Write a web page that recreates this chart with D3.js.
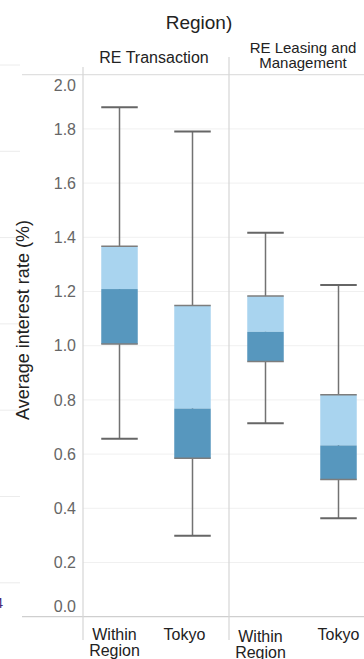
<!DOCTYPE html>
<html>
<head>
<meta charset="utf-8">
<script src="https://cdn.jsdelivr.net/npm/d3@7"></script>
<style>
  html, body { margin: 0; padding: 0; background: #fff; }
  svg { display: block; font-family: "Liberation Sans", Arial, sans-serif; }
</style>
</head>
<body>
<svg id="chart" width="364" height="659"></svg>
<script>
// Box-plot summary of average interest rates, by business line and lender location
const panels = ["RE Transaction", "RE Leasing and Management"];
const panelHeaderLines = [["RE Transaction"], ["RE Leasing and", "Management"]];
const groups = ["Within Region", "Tokyo"];
const groupLabelLines = [["Within", "Region"], ["Tokyo"]];

const boxPanel = ["RE Transaction", "RE Transaction", "RE Leasing and Management", "RE Leasing and Management"];
const boxGroup = ["Within Region", "Tokyo", "Within Region", "Tokyo"];
const whiskerHigh = [1.88, 1.79, 1.417, 1.224];
const quartile3 = [1.367, 1.148, 1.183, 0.819];
const medians = [1.209, 0.768, 1.051, 0.632];
const quartile1 = [1.006, 0.585, 0.942, 0.506];
const whiskerLow = [0.657, 0.299, 0.714, 0.363];

const yTicks = [0, 0.2, 0.4, 0.6, 0.8, 1.0, 1.2, 1.4, 1.6, 1.8, 2.0];

const boxes = boxPanel.map((p, i) => ({
  panel: p, group: boxGroup[i],
  hi: whiskerHigh[i], q3: quartile3[i], med: medians[i], q1: quartile1[i], lo: whiskerLow[i]
}));

const svg = d3.select("#chart");
const W = 364, H = 659;
const plotTop = 74.7, plotBottom = 616.7, plotLeft = 83;

const y = d3.scaleLinear().domain([0, 2]).range([plotBottom, plotTop]);
const xPanel = d3.scaleBand().domain(panels).range([plotLeft, plotLeft + 146 * panels.length]);
const xGroup = d3.scaleBand().domain(groups).range([0, xPanel.bandwidth()]);
const boxW = xGroup.bandwidth() * 0.5;
const cx = d => xPanel(d.panel) + xGroup(d.group) + xGroup.bandwidth() / 2;

// faint rules from the neighbouring sheet at the far left
const sideRules = d3.range(7).map(i => 65 + i * 86.3);
svg.append("g").selectAll("line").data(sideRules).join("line")
  .attr("x1", 0).attr("x2", 20).attr("y1", d => d).attr("y2", d => d)
  .attr("stroke", "#ececec").attr("stroke-width", 1);
svg.append("text").attr("x", 3).attr("y", 608).attr("text-anchor", "end")
  .attr("font-size", 15).attr("fill", "#4a2a7a").text("4");

// gridlines
svg.append("g").selectAll("line").data(yTicks.filter(t => t > 0 && t < 2)).join("line")
  .attr("x1", plotLeft).attr("x2", W)
  .attr("y1", d => y(d)).attr("y2", d => y(d))
  .attr("stroke", "#f0f0f0").attr("stroke-width", 1);

// top and bottom rules
svg.append("line").attr("x1", 22).attr("x2", W).attr("y1", y(2)).attr("y2", y(2))
  .attr("stroke", "#e0e0e0").attr("stroke-width", 1.2);
svg.append("line").attr("x1", 22).attr("x2", W).attr("y1", y(0)).attr("y2", y(0))
  .attr("stroke", "#cfcfcf").attr("stroke-width", 1.2);

// panel dividers
svg.append("g").selectAll("line").data(panels).join("line")
  .attr("x1", d => xPanel(d)).attr("x2", d => xPanel(d))
  .attr("y1", (d, i) => i === 0 ? 67 : 57).attr("y2", 640)
  .attr("stroke", "#d6d6d6").attr("stroke-width", 1.2);

// y axis
const yAxis = svg.append("g")
  .attr("transform", `translate(${plotLeft},0)`)
  .call(d3.axisLeft(y).tickValues(yTicks).tickSize(0).tickPadding(7).tickFormat(d3.format(".1f")));
yAxis.select(".domain").remove();
yAxis.selectAll("text")
  .attr("font-size", 16).attr("fill", "#666").attr("font-family", "\"Liberation Sans\", Arial, sans-serif")
  .attr("dy", d => d === 2 ? "1.0em" : d === 0 ? "-0.3em" : "0.32em");

// y title
svg.append("text")
  .attr("transform", "translate(29,320) rotate(-90)")
  .attr("text-anchor", "middle").attr("font-size", 18).attr("fill", "#222")
  .text("Average interest rate (%)");

// overall header
svg.append("text").attr("x", 199).attr("y", 29).attr("text-anchor", "middle")
  .attr("font-size", 19).attr("fill", "#222").text("Region)");

// panel headers
const headerSizes = [16, 15];
const headerX = [154, 303];
panels.forEach((p, i) => {
  const lines = panelHeaderLines[i];
  const t = svg.append("text").attr("text-anchor", "middle")
    .attr("font-size", headerSizes[i]).attr("fill", "#222");
  const firstY = lines.length === 1 ? 63 : 52.5;
  lines.forEach((ln, j) => {
    t.append("tspan").attr("x", headerX[i]).attr("y", firstY + j * 15.5).text(ln);
  });
});

// category labels under each panel
const labelNudge = [[-5, -8], [-5, 0]];
panels.forEach((p, pi) => {
  groups.forEach((g, gi) => {
    const x0 = xPanel(p) + xGroup(g) + xGroup.bandwidth() / 2 + labelNudge[pi][gi];
    const t = svg.append("text").attr("text-anchor", "middle")
      .attr("font-size", 16).attr("fill", "#222");
    groupLabelLines[gi].forEach((ln, j) => {
      t.append("tspan").attr("x", x0).attr("y", 640 + (pi === 1 && gi === 0 ? 2 : 0) + j * 15.5).text(ln);
    });
  });
});

// boxes
const gBox = svg.append("g");
const bx = gBox.selectAll("g").data(boxes).join("g");

bx.append("line")
  .attr("x1", cx).attr("x2", cx)
  .attr("y1", d => y(d.hi)).attr("y2", d => y(d.lo))
  .attr("stroke", "#727272").attr("stroke-width", 1.5);

bx.append("rect")
  .attr("x", d => cx(d) - boxW / 2).attr("width", boxW)
  .attr("y", d => y(d.q3)).attr("height", d => y(d.med) - y(d.q3))
  .attr("fill", "#a9d4ef");
bx.append("rect")
  .attr("x", d => cx(d) - boxW / 2).attr("width", boxW)
  .attr("y", d => y(d.med)).attr("height", d => y(d.q1) - y(d.med))
  .attr("fill", "#5797be");

// quartile edges and whisker caps
["q3", "q1"].forEach(k => {
  bx.append("line")
    .attr("x1", d => cx(d) - boxW / 2).attr("x2", d => cx(d) + boxW / 2)
    .attr("y1", d => y(d[k])).attr("y2", d => y(d[k]))
    .attr("stroke", "#7d7d7d").attr("stroke-width", 1.5);
});
["hi", "lo"].forEach(k => {
  bx.append("line")
    .attr("x1", d => cx(d) - boxW / 2).attr("x2", d => cx(d) + boxW / 2)
    .attr("y1", d => y(d[k])).attr("y2", d => y(d[k]))
    .attr("stroke", "#666").attr("stroke-width", 2);
});
</script>
</body>
</html>
